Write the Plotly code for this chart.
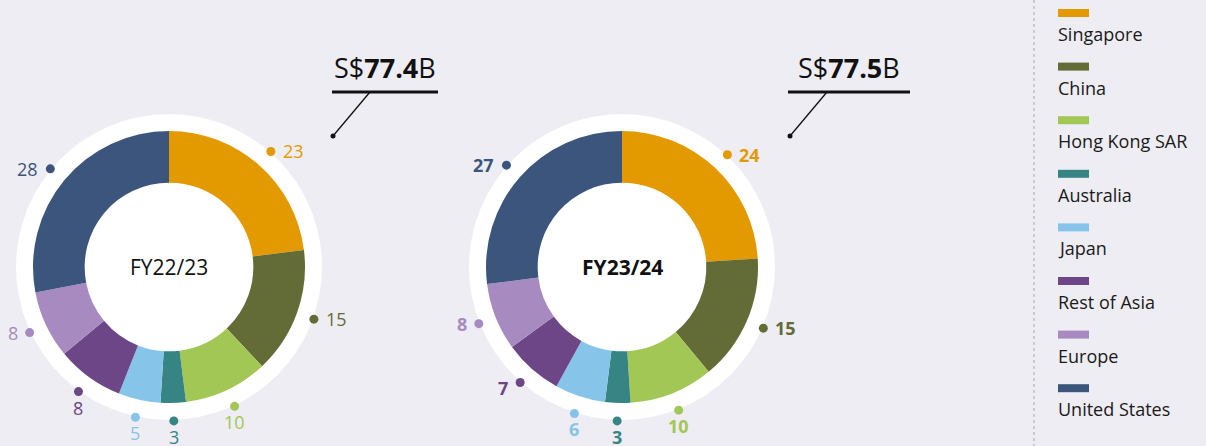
import math
import plotly.graph_objects as go

# ---------------- data ----------------
regions = ["Singapore", "China", "Hong Kong SAR", "Australia", "Japan",
           "Rest of Asia", "Europe", "United States"]
colors = ["#E39A00", "#636B37", "#A2C754", "#368584", "#86C4EA",
          "#6C4687", "#A78ABF", "#3C557C"]
fy2223 = [23, 15, 10, 3, 5, 8, 8, 28]
fy2324 = [24, 15, 10, 3, 6, 7, 8, 27]
years = ["FY22/23", "FY23/24"]
totals_bn = [77.4, 77.5]
series = [fy2223, fy2324]

# ---------------- layout constants ----------------
W, H = 1206, 446
BG = "#EEEDF3"
FONT = "Open Sans"
centers = [(169, 267), (622, 267)]
R = 136          # colored ring outer radius (px)
HOLE = 0.62
RING = 153       # white backing disc radius
DOT_R = 154      # radius of label dots
title_pos = [(385, 67), (849, 67)]
underline = [(332, 438), (788, 910)]
leader = [((370, 92), (333, 136)), ((827, 92), (790, 136))]

fig = go.Figure()
shapes = []
annotations = []

for k, (vals, (cx, cy)) in enumerate(zip(series, centers)):
    bold = (k == 1)
    # white backing disc
    shapes.append(dict(type="circle", xref="x", yref="y", layer="below",
                       x0=cx - RING, x1=cx + RING, y0=cy - RING, y1=cy + RING,
                       fillcolor="white", line=dict(width=0)))
    fig.add_trace(go.Pie(
        values=vals, labels=regions, marker=dict(colors=colors, line=dict(width=0)),
        hole=HOLE, sort=False, direction="clockwise", rotation=0,
        textinfo="none", hoverinfo="label+value", showlegend=False,
        domain=dict(x=[(cx - R) / W, (cx + R) / W],
                    y=[(H - cy - R) / H, (H - cy + R) / H]),
    ))
    # centre label
    txt = f"<b>{years[k]}</b>" if bold else years[k]
    annotations.append(dict(x=cx, y=cy, xref="x", yref="y", text=txt, showarrow=False,
                            font=dict(family=FONT, size=21, color="#111111"),
                            xanchor="center", yanchor="middle"))
    # dots + value labels
    total = sum(vals)
    cum = 0
    dx_list, dy_list = [], []
    for v, col in zip(vals, colors):
        th = 2 * math.pi * (cum + v / 2) / total
        cum += v
        x = cx + DOT_R * math.sin(th)
        y = cy - DOT_R * math.cos(th)
        dx_list.append(x)
        dy_list.append(y)
        c = math.cos(th)
        s = math.sin(th)
        lab = f"<b>{v}</b>" if bold else str(v)
        if c < -0.78:
            a = dict(x=x, y=y + 16, xanchor="center", yanchor="middle")
        elif s > 0:
            a = dict(x=x + 10, y=y, xanchor="left", yanchor="middle")
        else:
            a = dict(x=x - 10, y=y + (5 if c < -0.6 else 0), xanchor="right", yanchor="middle")
        a.update(xref="x", yref="y", text=lab, showarrow=False,
                 font=dict(family=FONT, size=18, color=col))
        annotations.append(a)
    fig.add_trace(go.Scatter(x=dx_list, y=dy_list, mode="markers",
                             marker=dict(size=9, color=colors, line=dict(width=0)),
                             hoverinfo="skip", showlegend=False))
    # total callout
    tx, ty = title_pos[k]
    annotations.append(dict(x=tx, y=ty, xref="x", yref="y",
                            text=f"S$<b>{totals_bn[k]}</b>B", showarrow=False,
                            font=dict(family=FONT, size=27, color="#111111"),
                            xanchor="center", yanchor="middle"))
    ux0, ux1 = underline[k]
    shapes.append(dict(type="line", xref="x", yref="y", x0=ux0, x1=ux1, y0=92, y1=92,
                       line=dict(color="#111111", width=3)))
    (lx0, ly0), (lx1, ly1) = leader[k]
    shapes.append(dict(type="line", xref="x", yref="y", x0=lx0, y0=ly0, x1=lx1, y1=ly1,
                       line=dict(color="#111111", width=1.3)))
    fig.add_trace(go.Scatter(x=[lx1], y=[ly1], mode="markers",
                             marker=dict(size=5, color="#111111"),
                             hoverinfo="skip", showlegend=False))

# ---------------- custom legend ----------------
shapes.append(dict(type="line", xref="x", yref="y", x0=1034, x1=1034, y0=0, y1=H,
                   line=dict(color="#A8A8A8", width=1, dash="dot")))
for i, (name, col) in enumerate(zip(regions, colors)):
    sy = 13 + 53.6 * i
    shapes.append(dict(type="rect", xref="x", yref="y", x0=1058, x1=1089,
                       y0=sy - 4, y1=sy + 4, fillcolor=col, line=dict(width=0)))
    annotations.append(dict(x=1056, y=sy + 21, xref="x", yref="y", text=name,
                            showarrow=False, xanchor="left", yanchor="middle",
                            font=dict(family=FONT, size=18, color="#1a1a1a")))

fig.update_layout(
    width=W, height=H, margin=dict(l=0, r=0, t=0, b=0),
    paper_bgcolor=BG, plot_bgcolor=BG,
    xaxis=dict(range=[0, W], visible=False, fixedrange=True, domain=[0, 1]),
    yaxis=dict(range=[H, 0], visible=False, fixedrange=True, domain=[0, 1]),
    shapes=shapes, annotations=annotations, showlegend=False,
)

fig.write_html("out.html", config={"displayModeBar": False},
               post_script="document.body.style.margin='0';document.body.style.overflow='hidden';")
